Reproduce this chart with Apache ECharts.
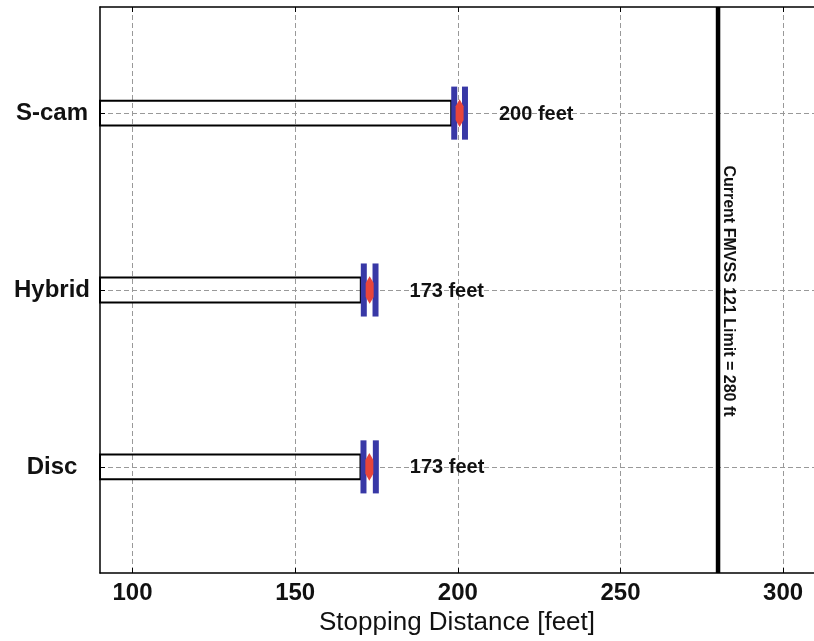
<!DOCTYPE html>
<html>
<head>
<meta charset="utf-8">
<script src="https://cdn.jsdelivr.net/npm/echarts@6/dist/echarts.min.js"></script>
<style>html,body{margin:0;padding:0;background:#fff}#c{width:814px;height:641px}</style>
</head>
<body>
<div id="c"></div>
<script>
// ---- data ----
const categories = ['Disc', 'Hybrid', 'S-cam'];      // y positions 1,2,3
const categoryPos = [1, 2, 3];
const meanValues  = [172.8, 172.9, 200.55];
const lowerValues = [171.0, 171.1, 198.9];
const upperValues = [174.8, 174.7, 202.2];
const valueLabels = ['173 feet', '173 feet', '200 feet'];
const xTickValues = [100, 150, 200, 250, 300];
const limitValue = 280;
const limitLabel = 'Current FMVSS 121 Limit = 280 ft';
const xMin = 90, xMax = 309.5;

const rows = categoryPos.map((p, i) => [p, meanValues[i], lowerValues[i], upperValues[i], valueLabels[i]]);

const chart = echarts.init(document.getElementById('c'));
const sans = "'Liberation Sans', Arial, sans-serif";
const gridLine = { show: true, lineStyle: { color: '#999', type: [5, 3], width: 1 } };

chart.setOption({
  animation: false,
  grid: { left: 100, top: 7, right: 0, bottom: 68 },
  xAxis: [{
    type: 'value', min: xMin, max: xMax, position: 'bottom',
    name: 'Stopping Distance [feet]', nameLocation: 'middle', nameGap: 35,
    nameTextStyle: { fontFamily: sans, fontSize: 26, color: '#111' },
    axisLine: { show: true, lineStyle: { color: '#000', width: 1.5 } },
    axisTick: { show: true, inside: true, length: 5, customValues: xTickValues, lineStyle: { color: '#000' } },
    axisLabel: { customValues: xTickValues, margin: 8, fontFamily: sans, fontWeight: 'bold', fontSize: 24, color: '#111' },
    splitLine: gridLine
  }, {
    type: 'value', min: xMin, max: xMax, position: 'top',
    axisLine: { show: true, lineStyle: { color: '#000', width: 1.5 } },
    axisTick: { show: true, inside: true, length: 5, customValues: xTickValues, lineStyle: { color: '#000' } },
    axisLabel: { show: false },
    splitLine: { show: false }
  }],
  yAxis: {
    type: 'value', min: 0.4, max: 3.6,
    axisLine: { show: true, lineStyle: { color: '#000', width: 1.5 } },
    axisTick: { show: true, inside: true, length: 5, customValues: categoryPos, lineStyle: { color: '#000' } },
    axisLabel: {
      customValues: categoryPos, margin: 48, align: 'center',
      fontFamily: sans, fontWeight: 'bold', fontSize: 24, color: '#111',
      formatter: v => categories[categoryPos.indexOf(v)] || ''
    },
    splitLine: gridLine
  },
  series: [
    {
      type: 'custom',
      data: rows,
      encode: { x: [1, 2, 3], y: 0 },
      renderItem: function (params, api) {
        const y = api.value(0), m = api.value(1), lo = api.value(2), hi = api.value(3);
        const unit = api.size([0, 1])[1];
        const pS = api.coord([xMin, y]);
        const pL = api.coord([lo, y]);
        const pH = api.coord([hi, y]);
        const pM = api.coord([m, y]);
        const bh = 0.07 * unit, blueH = 0.15 * unit, redH = 0.078 * unit;
        const bw = 6, rw = 4;
        const children = [
          { type: 'rect', shape: { x: pS[0], y: pS[1] - bh, width: pL[0] - bw / 2 - pS[0], height: 2 * bh },
            style: { fill: 'none', stroke: '#000', lineWidth: 2 } },
          { type: 'rect', shape: { x: pL[0] - bw / 2, y: pL[1] - blueH, width: bw, height: 2 * blueH }, style: { fill: '#3838a6' } },
          { type: 'rect', shape: { x: pH[0] - bw / 2, y: pH[1] - blueH, width: bw, height: 2 * blueH }, style: { fill: '#3838a6' } },
          { type: 'polygon', shape: { points: [
              [pM[0], pM[1] - redH], [pM[0] + rw, pM[1] - redH * 0.5], [pM[0] + rw, pM[1] + redH * 0.5],
              [pM[0], pM[1] + redH], [pM[0] - rw, pM[1] + redH * 0.5], [pM[0] - rw, pM[1] - redH * 0.5]] },
            style: { fill: '#e8453a' } },
          { type: 'text', x: pH[0] + bw / 2 + 31, y: pH[1] + 1,
            style: { text: api.value(4), align: 'left', verticalAlign: 'middle', fontFamily: sans, fontWeight: 'bold', fontSize: 20, fill: '#111' } }
        ];
        return { type: 'group', children: children };
      }
    },
    {
      type: 'custom',
      data: [[limitValue, 2]],
      encode: { x: 0, y: 1 },
      renderItem: function (params, api) {
        const cs = params.coordSys;
        const p = api.coord([api.value(0), api.value(1)]);
        return { type: 'group', children: [
          { type: 'line', shape: { x1: p[0], y1: cs.y, x2: p[0], y2: cs.y + cs.height }, style: { stroke: '#000', lineWidth: 4.5 } },
          { type: 'text', x: p[0] + 10, y: p[1] + 1, rotation: -Math.PI / 2,
            style: { text: limitLabel, align: 'center', verticalAlign: 'middle', fontFamily: sans, fontWeight: 'bold', fontSize: 16, fill: '#111' } }
        ] };
      }
    }
  ]
});
</script>
</body>
</html>
